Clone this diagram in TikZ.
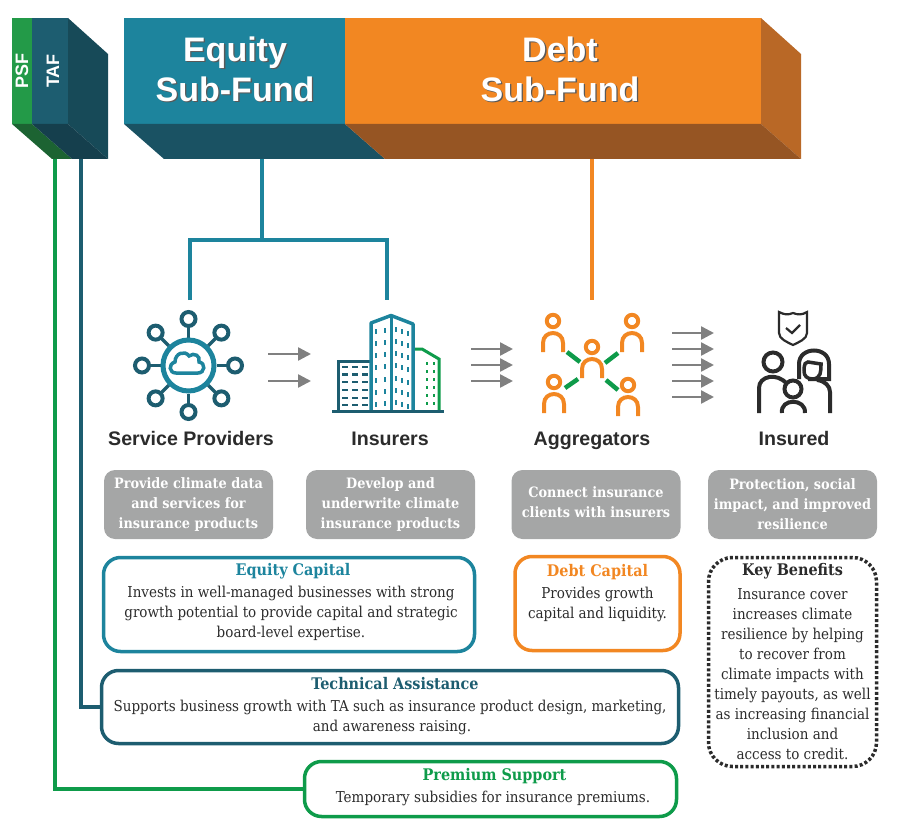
\documentclass[tikz,border=0pt]{standalone}
\usepackage{fontspec}
\setmainfont{DejaVu Serif Condensed}
\newfontfamily\headfont{Liberation Sans}
\usetikzlibrary{arrows.meta}
\definecolor{fundteal}{HTML}{1D849D}
\definecolor{fundtealdark}{HTML}{1A5263}
\definecolor{taf}{HTML}{1D5D70}
\definecolor{tafside}{HTML}{174A58}
\definecolor{tafbottom}{HTML}{153F4D}
\definecolor{psf}{HTML}{239A48}
\definecolor{psfbottom}{HTML}{1C6332}
\definecolor{fundorange}{HTML}{F28722}
\definecolor{orangeside}{HTML}{B96826}
\definecolor{orangebottom}{HTML}{965523}
\definecolor{linegreen}{HTML}{0E9B4A}
\definecolor{graybox}{HTML}{A5A6A6}
\definecolor{ink}{HTML}{2B2B2B}
\newcommand{\shadowed}[1]{\leavevmode\rlap{\kern1.3pt\raisebox{-1.3pt}{\color{black!65}#1}}#1}
\newcommand{\captitle}[2]{\textcolor{#1}{\bfseries\fontsize{16}{20}\selectfont #2}}
\newcommand{\lift}[1]{\\[#1]\mbox{}}
\tikzset{
 fundlabel/.style={text=white,align=center,font=\headfont\bfseries\fontsize{34}{40}\selectfont},
 sidelabel/.style={text=white,rotate=90,font=\headfont\bfseries\fontsize{18}{20}\selectfont},
 role/.style={text=ink,text height=14pt,text depth=4pt,font=\headfont\bfseries\fontsize{19.6}{22}\selectfont},
 graynote/.style={fill=graybox,rounded corners=11pt,minimum width=169pt,minimum height=69pt,inner sep=0pt,text=white,align=center,font=\bfseries\fontsize{14.3}{20}\selectfont},
 capbox/.style={draw=#1,line width=3.5pt,rounded corners=17pt,inner sep=0pt,align=center,text=ink,font=\fontsize{15}{20}\selectfont},
 flowarrow/.style={->,draw=black!50,line width=2.5pt},
 teal line/.style={draw=fundteal,line width=3.5pt},
 pics/person/.style={code={
   \draw[draw=fundorange,line width=4pt](0,0)circle[radius=6.2];
   \draw[draw=fundorange,line width=4pt](-10,31)--(-10,22).. controls (-10,8.7) and (10,8.7) .. (10,22)--(10,31);
 }}
}
\begin{document}
\begin{tikzpicture}[x=1pt,y=-1pt,>={Triangle[length=13pt,width=13pt]}]
 \useasboundingbox (0,0) rectangle (900,840);
 % PSF and TAF block
 \fill[psf](12,18)rectangle(32,124);
 \fill[taf](32,18)rectangle(68,124);
 \fill[tafside](68,18)--(108,54)--(108,159)--(68,124)--cycle;
 \fill[psfbottom](12,124)--(32,124)--(72,159)--(52,159)--cycle;
 \fill[tafbottom](32,124)--(68,124)--(108,159)--(72,159)--cycle;
 \node[sidelabel](psflabel) at (22,71){PSF};
 \node[sidelabel](taflabel) at (53,71){TAF};
 % sub-funds
 \fill[fundteal](124,18)rectangle(345,124);
 \fill[fundorange](345,18)rectangle(761,124);
 \fill[orangeside](761,18)--(801,54)--(801,159)--(761,124)--cycle;
 \fill[fundtealdark](124,124)--(345,124)--(385,159)--(164,159)--cycle;
 \fill[orangebottom](345,124)--(761,124)--(801,159)--(385,159)--cycle;
 \node[fundlabel](equity) at (235,70){\shadowed{Equity}\\\shadowed{Sub-Fund}};
 \node[fundlabel](debt) at (560,70){\shadowed{Debt}\\\shadowed{Sub-Fund}};

 % service providers icon
 \foreach \a in {0,45,...,315}
 {
  \draw[draw=taf,line width=3.5pt](188.5,365.5)++(\a:28)--++(\a:12);
  \draw[draw=taf,line width=4pt,fill=white](188.5,365.5)++(\a:46.5)circle[radius=7];
 }
 \draw[draw=fundteal,line width=5pt](188.5,365.5)circle[radius=25.5];
 \draw[draw=fundteal,line width=3.5pt](176,373).. controls (169,373) and (168,364) .. (175,362)
   .. controls (175,353) and (185,350) .. (189,356).. controls (194,352) and (201,356) .. (199,362)
   .. controls (206,363) and (205,373) .. (198,373)--cycle;
 % insurers icon
 \draw[draw=taf,line width=3pt](338,411)--(338,361)--(371,361);
 \foreach \y in {367,374.5,382,390,398,405}
 {
  \foreach \x in {342,352,362}
  {
   \draw[draw=taf,line width=2.5pt](\x,\y)--++(6,0);
  }
 }
 \draw[draw=linegreen,line width=3pt](413,349)--(422,349)--(439,359)--(439,411);
 \foreach \y in {362,370,378,386,394,402}
 {
  \foreach \x in {427,434}
  {
   \draw[draw=linegreen,line width=2.5pt](\x,\y)--++(0,3);
  }
 }
 \draw[draw=fundteal,line width=3.5pt,line join=round](371,411)--(371,323)--(391,315.5)--(413,324)--(413,411);
 \draw[draw=fundteal,line width=3pt](391,315.5)--(391,411);
 \foreach \y in {328,340,352,364,377,389,401}
 {
  \foreach \x/\d in {376/1,385/0,396/-1,402/1,408/3}
  {
   \draw[draw=fundteal,line width=2.5pt](\x,\y+\d)--++(0,5);
  }
 }
 \draw[draw=taf,line width=3pt](332,411)--(444,411);
 % aggregators icon
 \pic at (553,321){person};
 \pic at (632,321){person};
 \pic at (592,347){person};
 \pic at (554,382){person};
 \pic at (628,385){person};
 \draw[draw=linegreen,line width=4.5pt](567,352)--(580,362);
 \draw[draw=linegreen,line width=4.5pt](618,353)--(605,363);
 \draw[draw=linegreen,line width=4.5pt](578,379)--(565,388);
 \draw[draw=linegreen,line width=4.5pt](606,380)--(618,390);
 % insured icon
 \draw[draw=ink,line width=2.2pt](779,312).. controls (785,315) and (788,315) .. (793,313)
   .. controls (798,315) and (802,315) .. (807,312)--(807,333).. controls (807,339) and (799,342) .. (793,345)
   .. controls (787,342) and (779,339) .. (779,333)--cycle;
 \draw[draw=ink,line width=2.2pt](786,328)--(792,333)--(800,325);
 \draw[draw=ink,line width=4pt](773,362)circle[radius=9.5];
 \draw[draw=ink,line width=4pt](759,413)--(759,388).. controls (759,376) and (777,372) .. (787,384);
 \draw[draw=ink,line width=4pt](799,379)--(799,364).. controls (799,346) and (829,346) .. (829,364)--(829,379)--(808,379);
 \draw[draw=ink,line width=3.5pt](804,371).. controls (804,363) and (806,362) .. (808,362)--(821,364)
   .. controls (821,372) and (821,378) .. (813,379).. controls (807,379) and (804,376) .. (804,371);
 \draw[draw=ink,line width=4pt](830,413)--(830,392).. controls (830,386) and (825,381) .. (817,380);
 \draw[draw=ink,line width=4pt](793,389)circle[radius=8.5];
 \draw[draw=ink,line width=4pt](782,413).. controls (780,398) and (806,398) .. (805,413);

 % flow arrows
 \foreach \y in {354,381}
 {
  \coordinate (sa\y) at (268,\y);
  \coordinate (sb\y) at (311,\y);
  \draw[flowarrow](sa\y)--(sb\y);
 }
 \foreach \y in {349,365,381}
 {
  \coordinate (ia\y) at (471,\y);
  \coordinate (ib\y) at (513,\y);
  \draw[flowarrow](ia\y)--(ib\y);
 }
 \foreach \y in {333,349,365,381,397}
 {
  \coordinate (aa\y) at (672,\y);
  \coordinate (ab\y) at (714,\y);
  \draw[flowarrow](aa\y)--(ab\y);
 }

 \node[role](service) at (191,440.5){Service Providers};
 \node[role](insurers) at (390,440.5){Insurers};
 \node[role](aggregators) at (592,440.5){Aggregators};
 \node[role](insured) at (794,440.5){Insured};

 \node[graynote](servicenote) at (188.5,504.5){Provide climate data\\and services for\\insurance products};
 \node[graynote](insurernote) at (390.5,504.5){Develop and\\underwrite climate\\insurance products};
 \node[graynote](aggregatornote) at (596,504.5){Connect insurance\\clients with insurers\lift{-16pt}};
 \node[graynote](insurednote) at (792.5,504.5){Protection, social\\impact, and improved\\resilience};

 \node[capbox=fundteal,minimum width=371pt,minimum height=94pt](equitycap) at (289,604.5)
  {\hspace*{8pt}\captitle{fundteal}{Equity Capital}\\[2pt]\hspace*{4pt}Invests in well-managed businesses with strong\\\hspace*{4pt}growth potential to provide capital and strategic\\\hspace*{4pt}board-level expertise.\lift{-12pt}};
 \node[capbox=fundorange,minimum width=165pt,minimum height=94pt](debtcap) at (597.5,603.5)
  {\captitle{fundorange}{Debt Capital}\\[2pt]Provides growth\\capital and liquidity.\lift{4pt}};
 \node[capbox=taf,minimum width=577pt,minimum height=73pt](tacap) at (390,707)
  {\hspace*{10pt}\captitle{taf}{Technical Assistance}\\[2pt]Supports business growth with TA such as insurance product design, marketing,\\\hspace*{4pt}and awareness raising.\lift{-14pt}};
 \node[capbox=linegreen,minimum width=372pt,minimum height=55pt](premium) at (490.5,789)
  {\hspace*{8pt}\captitle{linegreen}{Premium Support}\\[2pt]\hspace*{5pt}Temporary subsidies for insurance premiums.\lift{-12pt}};
 \node[capbox=ink,minimum width=168pt,minimum height=209pt,dash pattern=on 3pt off 2.2pt,rounded corners=24pt](benefits) at (792.5,662)
  {\captitle{ink}{Key Benefits}\\[4pt]Insurance cover\\increases climate\\resilience by helping\\to recover from\\climate impacts with\\timely payouts, as well\\as increasing financial\\inclusion and\\access to credit.};

 % lines from the funds
 \coordinate (eqfoot) at (262,159);
 \coordinate (eqsplit) at (262,240);
 \coordinate (servicetop) at (190,300);
 \coordinate (insurertop) at (387,300);
 \coordinate (debtfoot) at (592,159);
 \coordinate (debttop) at (592,300);
 \coordinate (tafoot) at (81,159);
 \coordinate (psffoot) at (55,159);
 \draw[teal line](eqfoot)--(eqsplit);
 \draw[teal line](servicetop)|-(eqsplit)-|(insurertop);
 \draw[draw=fundorange,line width=3.5pt](debtfoot)--(debttop);
 \draw[draw=taf,line width=3.5pt](tafoot)|-(tacap.west);
 \draw[draw=linegreen,line width=3.5pt](psffoot)|-(premium.west);
\end{tikzpicture}
\end{document}
